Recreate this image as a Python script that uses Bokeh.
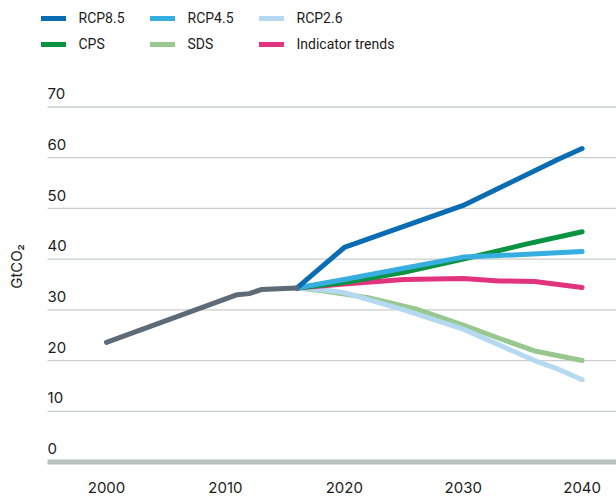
import math
from bokeh.plotting import figure
from bokeh.models import Legend, LegendItem
from bokeh.core.properties import value
from bokeh.embed import file_html
from bokeh.resources import INLINE

FONT = "Inter"
LEG_FONT = "Roboto"
TXT = "#1c1c1c"

# ---- data ----
hist_years = [2000, 2011, 2012, 2013, 2016]
hist_vals = [23.6, 33.0, 33.2, 34.0, 34.3]

rcp85_years = [2016, 2020, 2030, 2038, 2040]
rcp85_vals = [34.3, 42.3, 50.6, 59.7, 61.8]

rcp45_years = [2016, 2020, 2025, 2030, 2035, 2040]
rcp45_vals = [34.3, 36.0, 38.2, 40.4, 40.9, 41.5]

rcp26_years = [2016, 2018, 2020, 2025, 2030, 2036, 2038, 2040]
rcp26_vals = [34.3, 34.0, 33.4, 30.0, 26.2, 20.0, 18.3, 16.2]

cps_years = [2016, 2020, 2025, 2030, 2035, 2040]
cps_vals = [34.3, 35.4, 37.4, 40.0, 42.8, 45.4]

sds_years = [2016, 2018, 2020, 2022, 2026, 2030, 2033, 2036, 2040]
sds_vals = [34.3, 33.8, 33.1, 32.4, 30.2, 27.0, 24.4, 21.9, 20.0]

ind_years = [2016, 2020, 2025, 2030, 2033, 2036, 2040]
ind_vals = [34.3, 35.1, 36.0, 36.2, 35.7, 35.6, 34.4]

y_ticks = [0, 10, 20, 30, 40, 50, 60, 70]
y_tick_labels = ["0", "10", "20", "30", "40", "50", "60", "70"]
x_ticks = [2000, 2010, 2020, 2030, 2040]
x_tick_labels = ["2000", "2010", "2020", "2030", "2040"]
y_title = "GtCO\u2082"

# ---- layout (frame covers the whole canvas) ----
W, H = 616, 497
X0, X1 = 1991.085, 2042.89      # visible year range
GX0 = 1995.04                   # where grid lines / labels begin
Y0, Y1 = -7.0, 91.0             # visible value range
Y_TITLE_AT = 38.55
PX_X = (X1 - X0) / W            # data units per screen pixel
PX_Y = (Y1 - Y0) / H

p = figure(width=W, height=H, x_range=(X0, X1), y_range=(Y0, Y1),
           output_backend="svg", toolbar_location=None,
           x_axis_location=None, y_axis_location=None,
           min_border_left=0, min_border_right=0, min_border_top=0, min_border_bottom=0)
p.outline_line_color = None
p.xgrid.visible = False
p.ygrid.visible = False

grid_vals = [t for t in y_ticks if t > 0]
p.segment(x0=[GX0] * len(grid_vals), y0=grid_vals, x1=[X1] * len(grid_vals), y1=grid_vals,
          line_color="#c9cdcd", line_width=1.3)
# baseline at zero
p.segment(x0=[GX0], y0=[0], x1=[X1], y1=[0], line_color="#b9c0c0", line_width=5)

# y tick labels, sitting above their grid lines
p.text(x=[GX0] * len(y_ticks), y=[t + 13.3 * PX_Y for t in y_ticks], text=y_tick_labels,
       text_font=value(FONT), text_font_size="15px", text_color=TXT,
       text_align="left", text_baseline="middle")

# x tick labels
p.text(x=x_ticks, y=[Y0 + 10.5 * PX_Y] * len(x_ticks), text=x_tick_labels,
       text_font=value(FONT), text_font_size="15px", text_color=TXT,
       text_align="center", text_baseline="middle")

# y axis title
p.text(x=[X0 + 16 * PX_X], y=[Y_TITLE_AT], text=[y_title], text_font=value(FONT),
       text_font_size="15px", text_color=TXT, text_align="center",
       text_baseline="middle", angle=math.pi / 2)

kw = dict(line_width=5, line_cap="round", line_join="round")
r_sds = p.line(sds_years, sds_vals, line_color="#98c88f", **kw)
r_26 = p.line(rcp26_years, rcp26_vals, line_color="#b5d9f0", **kw)
r_ind = p.line(ind_years, ind_vals, line_color="#e2337f", **kw)
r_cps = p.line(cps_years, cps_vals, line_color="#0a9340", **kw)
r_45 = p.line(rcp45_years, rcp45_vals, line_color="#36aee0", **kw)
r_85 = p.line(rcp85_years, rcp85_vals, line_color="#0a6cb3", **kw)
r_hist = p.line(hist_years, hist_vals, line_color="#5d6b77", **kw)

items = [
    LegendItem(label="RCP8.5", renderers=[r_85]),
    LegendItem(label="RCP4.5", renderers=[r_45]),
    LegendItem(label="RCP2.6", renderers=[r_26]),
    LegendItem(label="CPS", renderers=[r_cps]),
    LegendItem(label="SDS", renderers=[r_sds]),
    LegendItem(label="Indicator trends", renderers=[r_ind]),
]
legend = Legend(items=items, location=(40.5, 443), orientation="horizontal", ncols=3,
                glyph_width=25, glyph_height=20, label_height=20, label_width=65,
                label_standoff=13, spacing=6, padding=0, margin=0,
                border_line_color=None, background_fill_alpha=0,
                label_text_font=LEG_FONT, label_text_font_size="14px", label_text_color=TXT)
p.add_layout(legend)

open("out.html", "w").write(file_html(p, INLINE))
